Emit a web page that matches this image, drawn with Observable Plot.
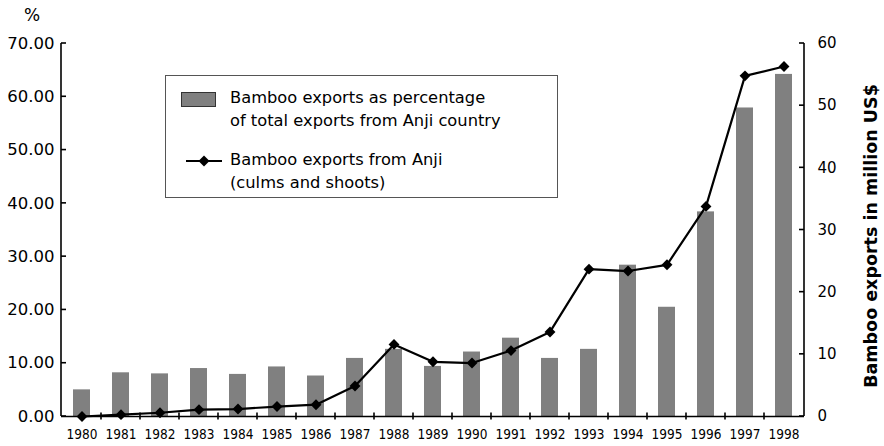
<!DOCTYPE html>
<html>
<head>
<meta charset="utf-8">
<script src="https://cdn.jsdelivr.net/npm/d3@7"></script>
<script src="https://cdn.jsdelivr.net/npm/@observablehq/plot@0.6"></script>
<style>
  html, body { margin: 0; padding: 0; background: #fff; }
  #wrap { position: relative; width: 884px; height: 446px; font-family: "DejaVu Sans", sans-serif; }
  #legend { position: absolute; left: 165px; top: 75px; width: 393px; height: 123px; box-sizing: border-box;
            border: 1px solid #555; background: #fff; font-size: 16.3px; color: #000; }
  .item { position: absolute; left: 0; }
  .lbl { position: absolute; left: 64px; line-height: 23px; white-space: nowrap; }
</style>
</head>
<body>
<div id="wrap"></div>
<script>
const years = [1980,1981,1982,1983,1984,1985,1986,1987,1988,1989,1990,1991,1992,1993,1994,1995,1996,1997,1998];
const sharePct = [5.0,8.2,8.0,9.0,7.9,9.3,7.6,10.9,12.6,9.4,12.1,14.7,10.9,12.6,28.4,20.5,38.4,57.9,64.2];
const exportsMUSD = [0.0,0.3,0.6,1.1,1.2,1.6,1.9,4.9,11.6,8.8,8.6,10.6,13.6,23.7,23.4,24.4,33.8,54.8,56.3];
const leftTicks = [0,10,20,30,40,50,60,70];
const rightTicks = [0,10,20,30,40,50,60];
const barLabel = ["Bamboo exports as percentage", "of total exports from Anji country"];
const lineLabel = ["Bamboo exports from Anji", "(culms and shoots)"];
const rightTitle = "Bamboo exports in million US$";
const leftTitle = "%";

const k = 70 / 60; // right axis (0-60) mapped onto left axis (0-70)
const data = years.map((y, i) => ({year: String(y), pct: sharePct[i], exp: exportsMUSD[i]}));

const plot = Plot.plot({
  width: 884, height: 446,
  marginLeft: 61, marginRight: 80, marginTop: 43, marginBottom: 30,
  style: {fontFamily: "DejaVu Sans, sans-serif", background: "white", color: "black"},
  x: {type: "band", domain: years.map(String), paddingInner: 0.56, paddingOuter: 0.28},
  y: {domain: [0, 70]},
  marks: [
    Plot.barY(data, {x: "year", y: "pct", fill: "#808080"}),
    Plot.line(data, {x: "year", y: d => d.exp * k, stroke: "black", strokeWidth: 2.2}),
    Plot.dot(data, {x: "year", y: d => d.exp * k, symbol: "diamond2", r: 4.9, fill: "black", stroke: "none"}),
    Plot.axisX({tickSize: 0, tickPadding: 13, fontSize: 13.5, fontFamily: "DejaVu Sans Condensed, DejaVu Sans, sans-serif", label: null}),
    Plot.axisY({anchor: "left", ticks: leftTicks, tickFormat: d => d.toFixed(2), tickSize: 0, tickPadding: 7, fontSize: 16.5, label: null}),
    Plot.axisY({anchor: "right", ticks: rightTicks.map(v => v * k), tickFormat: d => String(Math.round(d / k)), tickSize: 0, tickPadding: 13, fontSize: 15, label: null}),
    Plot.ruleY([0], {stroke: "black", strokeWidth: 1.6})
  ]
});

document.getElementById("wrap").appendChild(plot);

// axis lines and inward ticks drawn through the plot's own scales
const xs = plot.scale("x"), ys = plot.scale("y");
const svg = d3.select(plot);
const g = svg.append("g").attr("stroke", "black").attr("stroke-width", 1.6);
const xL = 61, xR = 884 - 80;
const y0 = ys.apply(0), yTop = ys.apply(70);
g.append("line").attr("x1", xL).attr("x2", xL).attr("y1", yTop).attr("y2", y0);
g.append("line").attr("x1", xR).attr("x2", xR).attr("y1", yTop).attr("y2", y0);
leftTicks.forEach(v => g.append("line").attr("x1", xL).attr("x2", xL + 5).attr("y1", ys.apply(v)).attr("y2", ys.apply(v)));
rightTicks.forEach(v => g.append("line").attr("x1", xR).attr("x2", xR - 5).attr("y1", ys.apply(v * k)).attr("y2", ys.apply(v * k)));
years.slice(1).forEach(y => {
  const xb = xs.apply(String(y)) + xs.bandwidth / 2 - xs.step / 2;
  g.append("line").attr("x1", xb).attr("x2", xb).attr("y1", y0 - 3.5).attr("y2", y0 + 3.5);
});

svg.append("text").attr("x", 32).attr("y", 21).attr("text-anchor", "middle")
  .attr("font-size", 17).attr("font-family", "DejaVu Sans, sans-serif").text(leftTitle);
svg.append("text").attr("transform", `translate(877,236) rotate(-90)`)
  .attr("text-anchor", "middle")
  .attr("font-size", 17.5).attr("font-weight", "bold").attr("font-family", "DejaVu Sans, sans-serif").text(rightTitle);

// legend
const legend = document.createElement("div");
legend.id = "legend";
legend.innerHTML = `
  <div class="item" style="top:0">
    <div style="position:absolute;left:15px;top:16px;width:33px;height:13px;background:#808080;border:1px solid #333;"></div>
    <div class="lbl" style="top:10px">${barLabel[0]}<br>${barLabel[1]}</div>
  </div>
  <div class="item" style="top:0">
    <svg style="position:absolute;left:20px;top:78px" width="38" height="14">
      <line x1="0" x2="36" y1="7" y2="7" stroke="black" stroke-width="2"/>
      <path d="M18,1.5 L23.5,7 L18,12.5 L12.5,7 Z" fill="black"/>
    </svg>
    <div class="lbl" style="top:72px">${lineLabel[0]}<br>${lineLabel[1]}</div>
  </div>`;
document.getElementById("wrap").appendChild(legend);
</script>
</body>
</html>
